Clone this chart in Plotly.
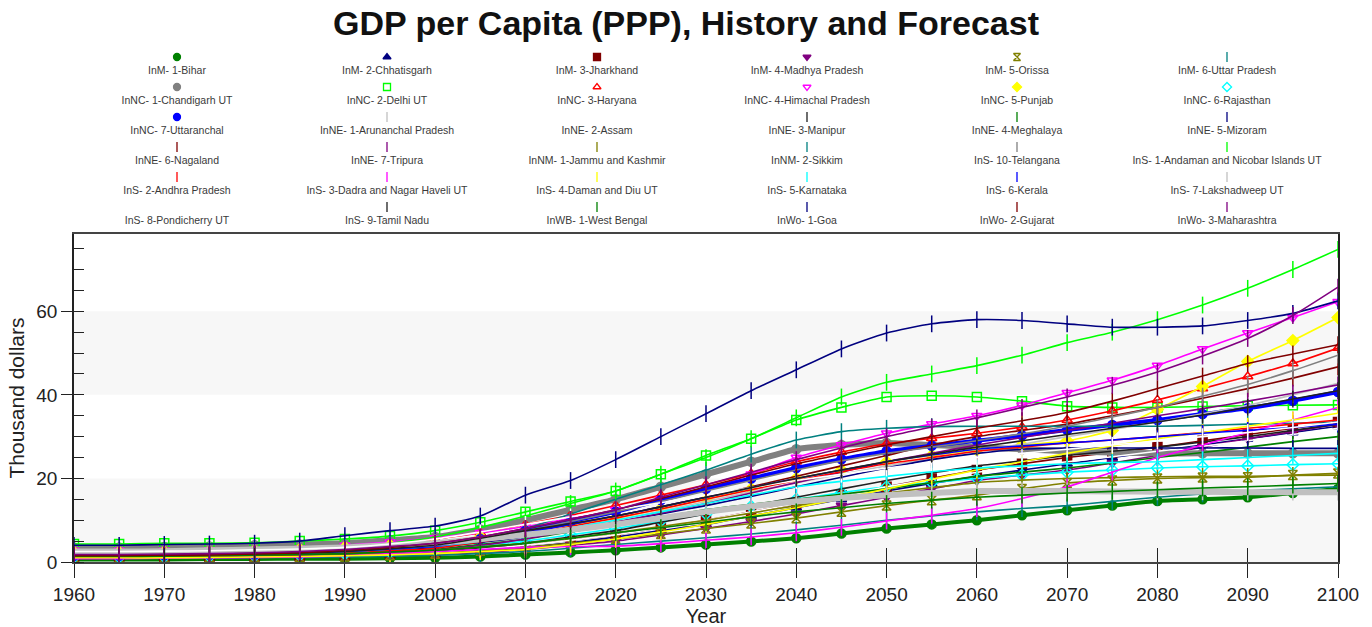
import plotly.graph_objects as go

# ---------------- data (thousand dollars, every 5 years) ----------------
years = list(range(1960, 2101, 5))

bihar        = [0.6,0.6,0.6,0.7,0.7,0.8,0.8,0.9,1.0,1.3,1.8,2.3,2.8,3.5,4.2,4.9,5.7,6.8,8.0,9.0,10.0,11.2,12.4,13.5,14.6,15.0,15.5,16.5,17.5]
chhatisgarh  = [1.0,1.0,1.1,1.1,1.2,1.3,1.5,1.7,2.0,2.6,3.5,4.6,6.0,7.5,9.0,11.0,13.0,15.0,17.0,18.8,20.5,22.0,23.5,25.0,26.5,28.0,29.5,31.0,32.5]
jharkhand    = [1.0,1.0,1.1,1.2,1.3,1.4,1.5,1.8,2.2,3.0,4.0,5.2,6.5,8.2,10.0,12.0,14.0,16.0,18.0,20.0,22.0,23.5,25.0,26.2,27.5,29.0,30.5,32.0,33.5]
madhya       = [1.0,1.0,1.0,1.1,1.1,1.2,1.3,1.5,1.7,2.2,3.0,4.0,5.0,6.5,8.0,9.7,11.5,13.5,15.5,17.5,19.5,20.8,22.0,23.7,25.5,27.5,29.5,31.2,33.0]
orissa       = [1.0,1.0,1.0,1.1,1.1,1.2,1.3,1.6,2.0,2.7,3.5,4.5,5.5,6.7,8.0,9.2,10.5,12.0,13.5,14.8,16.0,17.5,18.9,19.5,20.0,20.2,20.3,20.8,21.2]
uttar        = [1.0,1.0,1.0,1.0,1.1,1.1,1.2,1.4,1.6,2.0,2.5,3.3,4.2,5.0,5.8,6.7,7.7,8.8,10.0,11.0,12.0,12.8,13.5,14.5,15.5,16.3,17.0,17.5,18.0]
chandigarh   = [3.5,3.5,3.6,3.7,4.0,4.2,4.5,5.2,6.0,7.8,10.0,12.5,15.0,18.0,21.0,24.0,27.0,28.0,28.5,28.0,27.5,27.0,26.5,26.2,26.0,26.0,26.0,26.0,26.0]
delhi        = [4.3,4.3,4.5,4.5,4.6,5.0,5.5,6.2,7.5,9.5,12.0,14.5,17.0,21.0,25.5,29.5,34.0,37.0,39.5,39.8,39.5,38.5,37.3,37.0,37.0,37.2,37.4,37.5,37.6]
haryana      = [2.0,2.0,2.1,2.2,2.4,2.8,3.5,4.3,5.5,7.0,9.0,11.2,13.5,16.0,18.5,21.2,24.0,26.3,28.3,29.6,30.8,32.3,34.0,36.2,38.8,41.5,44.4,47.5,51.2]
himachal     = [2.8,2.8,2.8,2.9,3.0,3.3,4.0,4.8,5.8,7.0,8.5,10.5,12.5,15.0,17.5,21.0,25.0,28.0,30.8,33.0,35.0,37.5,40.5,43.5,47.0,51.0,54.8,58.5,62.3]
punjab       = [2.3,2.3,2.4,2.5,2.7,3.0,3.5,4.0,4.5,6.0,7.5,9.0,10.5,12.7,15.0,17.5,20.0,22.0,24.0,25.5,26.8,28.0,29.0,31.5,36.5,42.0,48.0,53.0,58.5]
rajasthan    = [1.2,1.2,1.3,1.4,1.5,1.7,2.0,2.5,3.0,4.0,5.0,6.5,8.0,9.8,11.5,13.3,15.0,16.6,18.0,19.0,20.0,20.8,21.5,22.0,22.5,22.8,23.0,23.3,23.5]
uttaranchal  = [1.5,1.5,1.6,1.7,1.8,2.0,2.5,3.2,4.0,5.5,7.5,9.7,12.0,14.8,17.5,20.0,22.5,24.6,26.5,27.8,29.0,30.3,31.6,32.8,34.0,35.4,36.8,38.6,40.7]
arunachal    = [1.5,1.5,1.6,1.7,1.8,2.0,2.3,2.8,3.5,5.0,6.5,8.2,10.0,12.2,14.5,16.8,19.0,21.0,23.0,24.8,26.5,28.2,30.0,31.7,33.5,35.5,37.5,40.0,42.8]
assam        = [1.3,1.3,1.4,1.5,1.5,1.6,1.8,2.1,2.4,3.1,4.0,5.2,6.5,8.2,10.0,12.0,14.0,16.0,18.0,19.8,21.5,22.8,24.0,25.2,26.5,27.7,29.0,30.5,32.0]
manipur      = [1.2,1.2,1.3,1.4,1.5,1.6,1.8,2.1,2.5,3.4,4.5,6.0,7.5,9.5,11.5,13.5,15.5,17.5,19.5,21.3,23.0,24.2,25.5,26.5,27.5,28.7,30.0,31.5,33.0]
meghalaya    = [1.5,1.5,1.6,1.7,1.8,2.0,2.2,2.6,3.0,4.2,5.5,7.2,9.0,10.8,12.5,13.8,15.0,16.2,17.5,19.0,20.5,21.5,22.5,23.7,25.0,26.2,27.5,28.8,30.0]
mizoram      = [1.5,1.5,1.6,1.7,1.8,2.1,2.5,3.0,3.5,4.7,6.0,7.7,9.5,11.5,13.5,15.7,18.0,20.3,22.5,24.5,26.0,27.0,27.3,27.3,27.3,27.3,27.3,27.2,27.2]
nagaland     = [1.8,1.8,1.9,2.0,2.1,2.4,2.8,3.3,4.0,5.5,7.0,9.0,11.0,13.2,15.5,18.0,20.5,23.0,25.5,28.0,30.0,31.5,33.0,35.0,37.0,39.2,41.5,44.0,46.7]
tripura      = [1.2,1.2,1.3,1.3,1.4,1.5,1.8,2.3,2.8,4.0,5.5,7.5,9.5,11.7,14.0,16.5,19.0,21.5,24.0,26.0,28.0,29.8,31.5,33.2,35.0,36.7,38.5,40.4,42.4]
jammu        = [1.3,1.3,1.4,1.5,1.6,1.8,2.0,2.4,2.8,3.6,4.5,5.7,7.0,8.5,10.0,11.7,13.5,15.0,16.5,17.8,19.0,19.6,20.0,20.2,20.4,20.5,20.5,20.7,20.8]
sikkim       = [1.5,1.5,1.6,1.7,1.8,2.1,2.5,3.2,4.0,5.8,8.0,11.5,15.0,18.5,22.0,25.8,29.2,31.2,32.0,32.4,32.5,32.5,32.5,32.5,32.5,32.7,33.0,33.2,33.5]
telangana    = [1.5,1.5,1.6,1.7,1.8,2.0,2.5,3.2,4.0,5.7,7.5,9.7,12.0,14.5,17.0,19.5,22.0,24.2,26.0,27.5,29.0,30.7,32.5,34.7,37.0,39.7,42.5,45.8,49.5]
andaman      = [2.0,2.0,2.1,2.2,2.4,2.8,3.3,4.5,6.0,8.3,11.0,14.0,17.0,21.0,25.0,29.5,34.5,39.5,43.0,45.0,47.0,49.5,52.5,55.0,58.0,61.5,65.5,70.0,74.8]
andhra       = [1.3,1.3,1.4,1.5,1.6,1.8,2.2,2.7,3.3,4.8,6.5,8.5,10.5,12.7,15.0,17.3,19.5,21.6,23.5,25.0,26.5,27.5,28.5,29.2,30.0,31.0,32.0,33.0,34.0]
dadra        = [0.8,0.8,0.9,1.0,1.1,1.2,1.5,2.0,2.5,3.0,3.5,3.7,3.8,4.4,5.2,6.0,7.0,8.3,9.8,11.2,12.8,15.2,18.0,21.5,25.0,28.0,31.0,34.0,37.0]
daman        = [1.0,1.0,1.0,1.1,1.2,1.3,1.5,1.7,2.0,2.5,3.0,4.2,5.5,7.2,9.0,11.0,13.0,15.2,17.5,19.8,22.0,24.0,26.0,27.8,29.5,31.0,32.5,34.0,35.6]
karnataka    = [1.5,1.5,1.6,1.7,1.8,2.1,2.5,3.1,3.8,5.0,6.5,8.2,10.0,12.0,14.0,16.0,18.0,19.3,20.5,21.6,22.5,23.0,23.5,23.8,24.0,24.5,25.0,25.5,26.0]
kerala       = [1.5,1.5,1.6,1.7,1.8,2.1,2.5,3.1,3.8,5.3,7.0,9.0,11.0,13.2,15.5,17.8,20.0,22.0,24.0,25.6,27.0,27.8,28.5,29.2,30.0,30.8,31.5,32.2,33.0]
lakshadweep  = [2.5,2.5,2.6,2.8,3.0,3.2,3.5,4.0,4.5,5.5,6.5,7.7,9.0,10.5,12.0,13.3,14.5,15.3,16.0,16.5,17.0,17.0,17.0,16.9,16.8,16.8,16.7,16.7,16.7]
pondicherry  = [2.5,2.5,2.6,2.7,2.9,3.1,3.5,4.3,5.5,7.2,9.0,10.8,12.5,14.2,16.0,17.8,19.5,21.0,22.5,23.8,25.0,26.0,27.0,28.0,29.0,30.0,31.0,32.2,33.5]
tamilnadu    = [1.5,1.5,1.6,1.7,1.8,2.1,2.5,3.2,4.0,5.7,7.5,9.2,11.0,13.2,15.5,17.8,20.0,22.0,24.0,25.8,27.5,29.0,30.5,32.0,33.5,35.2,37.0,39.0,41.0]
westbengal   = [1.3,1.3,1.4,1.5,1.6,1.8,2.0,2.4,2.8,3.6,4.5,5.7,7.0,8.2,9.5,10.8,12.0,13.0,14.0,14.8,15.5,16.0,16.5,16.9,17.3,17.7,18.0,18.4,18.8]
goa          = [4.0,4.0,4.2,4.3,4.5,5.0,6.3,7.5,8.6,11.0,16.0,19.5,24.5,30.0,35.5,41.0,46.0,51.0,54.8,57.0,58.0,57.8,57.0,56.2,56.2,56.5,57.8,59.5,62.5]
gujarat      = [1.5,1.5,1.6,1.7,1.9,2.2,2.8,3.5,4.5,6.0,8.0,10.2,12.5,15.2,18.0,20.8,23.5,25.8,28.0,30.0,32.0,33.8,35.8,38.5,41.5,44.5,47.5,49.8,52.0]
maharashtra  = [1.8,1.8,1.9,2.0,2.2,2.5,3.0,3.7,4.5,6.0,8.0,10.2,12.5,15.5,18.5,21.5,24.5,27.3,30.0,32.3,34.5,37.0,39.5,42.3,45.5,49.3,53.5,59.0,65.8]

names = [
    "InM- 1-Bihar", "InM- 2-Chhatisgarh", "InM- 3-Jharkhand", "InM- 4-Madhya Pradesh", "InM- 5-Orissa", "InM- 6-Uttar Pradesh",
    "InNC- 1-Chandigarh UT", "InNC- 2-Delhi UT", "InNC- 3-Haryana", "InNC- 4-Himachal Pradesh", "InNC- 5-Punjab", "InNC- 6-Rajasthan",
    "InNC- 7-Uttaranchal", "InNE- 1-Arunanchal Pradesh", "InNE- 2-Assam", "InNE- 3-Manipur", "InNE- 4-Meghalaya", "InNE- 5-Mizoram",
    "InNE- 6-Nagaland", "InNE- 7-Tripura", "InNM- 1-Jammu and Kashmir", "InNM- 2-Sikkim", "InS- 10-Telangana", "InS- 1-Andaman and Nicobar Islands UT",
    "InS- 2-Andhra Pradesh", "InS- 3-Dadra and Nagar Haveli UT", "InS- 4-Daman and Diu UT", "InS- 5-Karnataka", "InS- 6-Kerala", "InS- 7-Lakshadweep UT",
    "InS- 8-Pondicherry UT", "InS- 9-Tamil Nadu", "InWB- 1-West Bengal", "InWo- 1-Goa", "InWo- 2-Gujarat", "InWo- 3-Maharashtra",
]
series = [bihar, chhatisgarh, jharkhand, madhya, orissa, uttar,
          chandigarh, delhi, haryana, himachal, punjab, rajasthan,
          uttaranchal, arunachal, assam, manipur, meghalaya, mizoram,
          nagaland, tripura, jammu, sikkim, telangana, andaman,
          andhra, dadra, daman, karnataka, kerala, lakshadweep,
          pondicherry, tamilnadu, westbengal, goa, gujarat, maharashtra]

# ---------------- styles ----------------
palette = ["#008000", "#000080", "#800000", "#800080", "#808000", "#008080", "#808080", "#00ff00",
           "#ff0000", "#ff00ff", "#ffff00", "#00ffff", "#0000ff", "#c0c0c0", "#ffffff", "#202020"]
first_symbols = ["circle", "triangle-up", "square", "triangle-down", "hourglass-open", "line-ns-open",
                 "circle", "square-open", "triangle-up-open", "triangle-down-open", "diamond", "diamond-open",
                 "circle"]
symbols = first_symbols + ["line-ns-open"] * (len(names) - len(first_symbols))
colors = [palette[i % 16] for i in range(len(names))]
widths = {0: 4, 6: 6, 12: 4, 29: 6}

FONT = "Arial, Liberation Sans, sans-serif"
fig = go.Figure()

for i, (nm, vals) in enumerate(zip(names, series)):
    sym = symbols[i]
    is_line = sym.startswith("line")
    fig.add_trace(go.Scatter(
        x=years, y=vals, name=nm, mode="lines+markers",
        line=dict(color=colors[i], width=widths.get(i, 1.6), shape="spline", smoothing=0.6),
        marker=dict(symbol=sym, size=12 if is_line else 9, color=colors[i],
                    line=dict(color=colors[i], width=1.5)),
        showlegend=False, hoverinfo="skip",
    ))

# legend drawn as a grid: marker above, label below
cols = [i % 6 for i in range(len(names))]
rows = [i // 6 for i in range(len(names))]
fig.add_trace(go.Scatter(
    x=cols, y=rows, xaxis="x2", yaxis="y2", mode="markers",
    marker=dict(symbol=symbols, color=colors, size=7, line=dict(color=colors, width=1.3)),
    showlegend=False, hoverinfo="skip"))
fig.add_trace(go.Scatter(
    x=cols, y=[r + 0.47 for r in rows], xaxis="x2", yaxis="y2", mode="text",
    text=names, textfont=dict(family=FONT, size=10.5, color="#3a3a3a"),
    showlegend=False, hoverinfo="skip"))
# overlay axes carrying the inward tick marks
fig.add_trace(go.Scatter(x=[1960], y=[0], xaxis="x3", yaxis="y3", mode="markers",
                         marker=dict(opacity=0), showlegend=False, hoverinfo="skip"))

H, W = 627, 1372
TOP_M, BOT_M = 40, 65
paper_h = H - TOP_M - BOT_M
plot_top = 234
dom_top = (H - BOT_M - plot_top) / paper_h
leg_bottom = (H - BOT_M - 230) / paper_h

for lo, hi in [(0, 20), (40, 60)]:
    fig.add_shape(type="rect", xref="paper", yref="y", x0=0, x1=1, y0=lo, y1=hi,
                  fillcolor="#f7f7f7", line=dict(width=0), layer="below")

fig.update_layout(
    width=W, height=H,
    margin=dict(l=74, r=34, t=TOP_M, b=BOT_M, autoexpand=False),
    paper_bgcolor="white", plot_bgcolor="white",
    title=dict(text="<b>GDP per Capita (PPP), History and Forecast</b>", x=0.5, xanchor="center",
               y=1 - 23 / H, yanchor="middle", font=dict(family=FONT, size=34, color="#111")),
    xaxis=dict(range=[1960, 2100], tickvals=list(range(1960, 2101, 10)), ticks="outside", ticklen=14,
               tickcolor="#222", tickwidth=1.3, showgrid=False, zeroline=False, automargin=False,
               showline=True, linecolor="#444", linewidth=1.5, mirror=True,
               tickfont=dict(family=FONT, size=19, color="#222"),
               title=dict(text="Year", font=dict(family=FONT, size=20, color="#222"), standoff=2)),
    yaxis=dict(domain=[0, dom_top], range=[0, 78.5], tickvals=[0, 20, 40, 60], ticks="outside", ticklen=11,
               tickcolor="#222", tickwidth=1.3, showgrid=False, zeroline=False, automargin=False,
               showline=True, linecolor="#222", linewidth=1.5, mirror=True,
               minor=dict(dtick=5, ticks="inside", ticklen=10, tickcolor="#222", tickwidth=1.3),
               tickfont=dict(family=FONT, size=19, color="#222"),
               title=dict(text="Thousand dollars", font=dict(family=FONT, size=21, color="#222"), standoff=6)),
    xaxis3=dict(overlaying="x", range=[1960, 2100], tickvals=list(range(1960, 2101, 10)), ticks="inside",
                ticklen=14, tickcolor="#222", tickwidth=1.3, showticklabels=False, showgrid=False,
                zeroline=False, showline=False, automargin=False),
    yaxis3=dict(overlaying="y", range=[0, 78.5], tickvals=[0, 20, 40, 60], ticks="inside", ticklen=10,
                tickcolor="#222", tickwidth=1.3, showticklabels=False, showgrid=False,
                zeroline=False, showline=False, automargin=False),
    xaxis2=dict(domain=[0, 1], range=[-103 / 210, 1161 / 210], visible=False, fixedrange=True),
    yaxis2=dict(domain=[leg_bottom, 1], range=[173 / 30, -17 / 30], visible=False, fixedrange=True),
)

fig.write_html("out.html", config={"displayModeBar": False},
               post_script="document.body.style.margin='0';document.body.style.overflow='hidden';")
